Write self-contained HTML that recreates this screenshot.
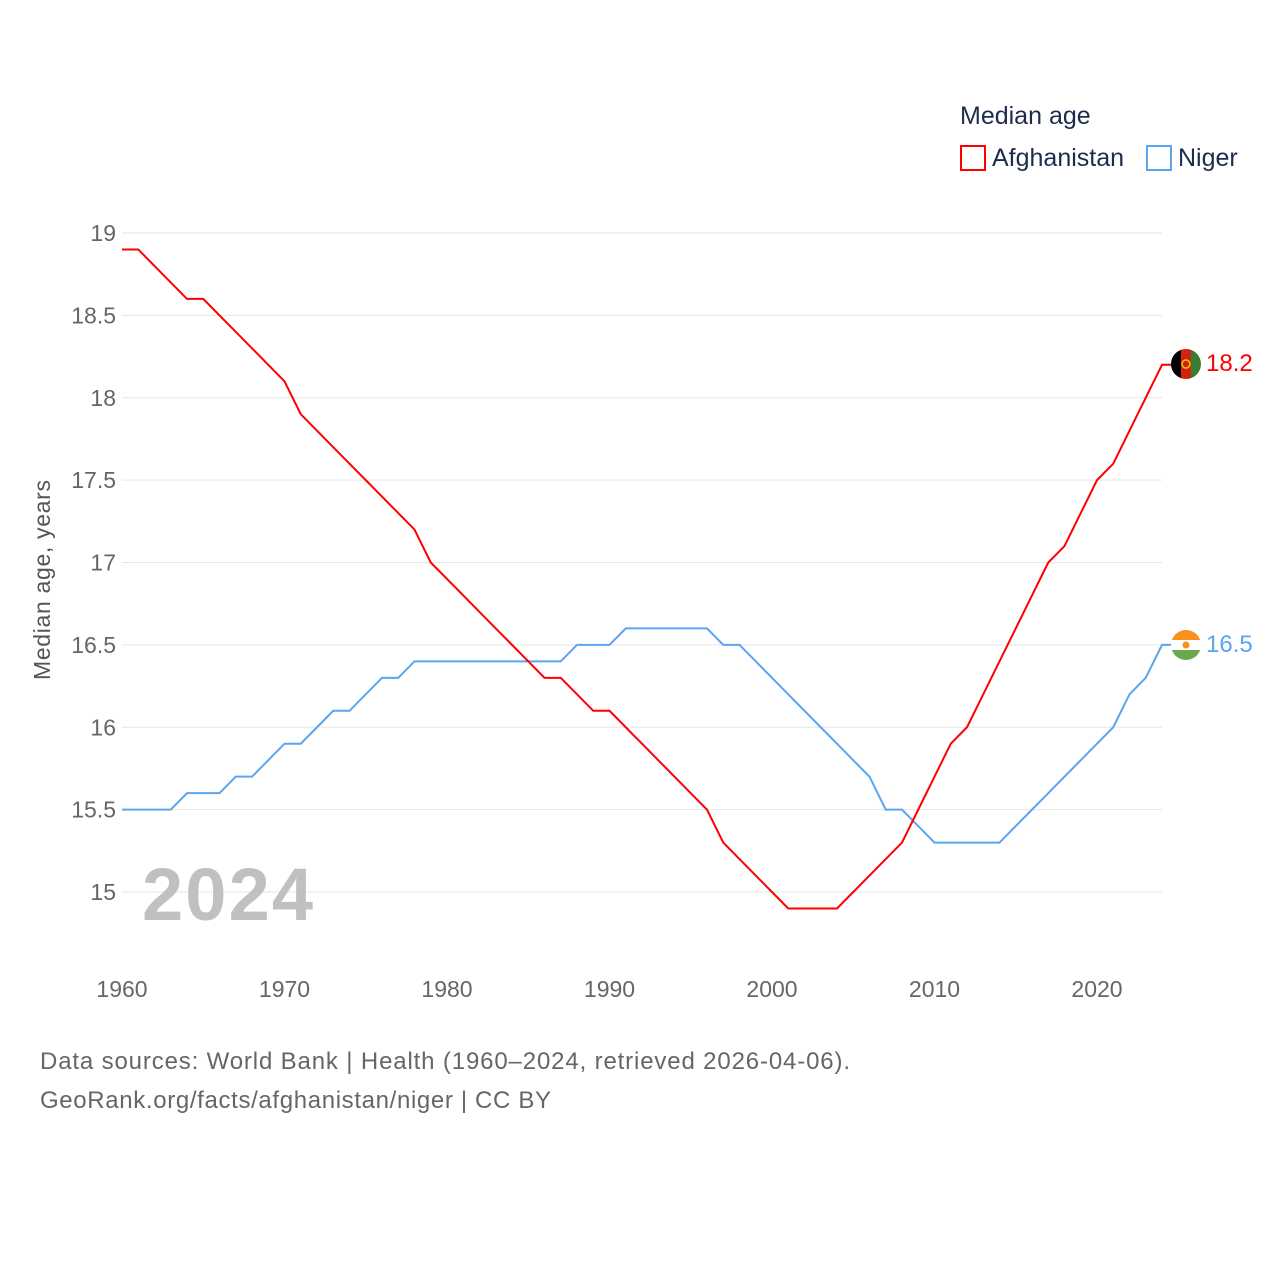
<!DOCTYPE html>
<html><head><meta charset="utf-8">
<style>
body{margin:0;background:#fff;font-family:"Liberation Sans",sans-serif;}
svg text{font-family:"Liberation Sans",sans-serif;}
</style></head>
<body>
<svg id="chart" width="1280" height="1280" xmlns="http://www.w3.org/2000/svg">
<text x="960" y="124" font-size="25" fill="#1d2c4c">Median age</text>
<rect x="961" y="146" width="24" height="24" fill="none" stroke="#ff0000" stroke-width="2"/>
<text x="992" y="166" font-size="25" fill="#1d2c4c">Afghanistan</text>
<rect x="1147" y="146" width="24" height="24" fill="none" stroke="#5aa5f0" stroke-width="2"/>
<text x="1178" y="166" font-size="25" fill="#1d2c4c">Niger</text>
<g id="grid"></g>
<text transform="translate(50,580) rotate(-90)" text-anchor="middle" font-size="23" fill="#555" textLength="200">Median age, years</text>
<text x="142" y="920" font-size="74" font-weight="bold" fill="#c0c0c0" textLength="171">2024</text>
<g id="series"></g>
<g>
<clipPath id="ac"><circle cx="1186" cy="364" r="15"/></clipPath>
<g clip-path="url(#ac)"><rect x="1171" y="349" width="10" height="30" fill="#000"/><rect x="1181" y="349" width="10" height="30" fill="#d32011"/><rect x="1191" y="349" width="10" height="30" fill="#3a7d33"/></g>
<circle cx="1186" cy="364" r="4" fill="none" stroke="#f5c400" stroke-width="1.5"/>
</g>
<g>
<clipPath id="nc"><circle cx="1186" cy="645" r="15"/></clipPath>
<g clip-path="url(#nc)"><rect x="1171" y="630" width="30" height="10" fill="#f7921e"/><rect x="1171" y="640" width="30" height="10" fill="#fff"/><rect x="1171" y="650" width="30" height="10" fill="#6aa84f"/><circle cx="1186" cy="645" r="3.5" fill="#f7921e"/></g>
</g>
<text x="1206" y="371" font-size="24" fill="#ff0000">18.2</text>
<text x="1206" y="652" font-size="24" fill="#5aa5f0">16.5</text>
<text x="40" y="1069" font-size="24" fill="#666" textLength="810">Data sources: World Bank | Health (1960–2024, retrieved 2026-04-06).</text>
<text x="40" y="1108" font-size="24" fill="#666" textLength="511">GeoRank.org/facts/afghanistan/niger | CC BY</text>
</svg>
<script>
const years = [];
for (let y = 1960; y <= 2024; y++) years.push(y);
const afghanistan = [18.9,18.9,18.8,18.7,18.6,18.6,18.5,18.4,18.3,18.2,18.1,17.9,17.8,17.7,17.6,17.5,17.4,17.3,17.2,17.0,16.9,16.8,16.7,16.6,16.5,16.4,16.3,16.3,16.2,16.1,16.1,16.0,15.9,15.8,15.7,15.6,15.5,15.3,15.2,15.1,15.0,14.9,14.9,14.9,14.9,15.0,15.1,15.2,15.3,15.5,15.7,15.9,16.0,16.2,16.4,16.6,16.8,17.0,17.1,17.3,17.5,17.6,17.8,18.0,18.2];
const niger = [15.5,15.5,15.5,15.5,15.6,15.6,15.6,15.7,15.7,15.8,15.9,15.9,16.0,16.1,16.1,16.2,16.3,16.3,16.4,16.4,16.4,16.4,16.4,16.4,16.4,16.4,16.4,16.4,16.5,16.5,16.5,16.6,16.6,16.6,16.6,16.6,16.6,16.5,16.5,16.4,16.3,16.2,16.1,16.0,15.9,15.8,15.7,15.5,15.5,15.4,15.3,15.3,15.3,15.3,15.3,15.4,15.5,15.6,15.7,15.8,15.9,16.0,16.2,16.3,16.5];
const yTicks = [15,15.5,16,16.5,17,17.5,18,18.5,19];
const xTicks = [1960,1970,1980,1990,2000,2010,2020];

const NS = "http://www.w3.org/2000/svg";
const xScale = v => 122 + (v - 1960) * 16.25;
const yScale = v => 892 - (v - 15) * 164.75;
const grid = document.getElementById('grid');
const series = document.getElementById('series');
yTicks.forEach(t => {
  const l = document.createElementNS(NS, 'line');
  l.setAttribute('x1', 122); l.setAttribute('x2', 1162);
  l.setAttribute('y1', yScale(t)); l.setAttribute('y2', yScale(t));
  l.setAttribute('stroke', '#e6e6e6'); l.setAttribute('stroke-width', 1);
  
  
  grid.appendChild(l);
  const tx = document.createElementNS(NS, 'text');
  tx.setAttribute('x', 116); tx.setAttribute('y', yScale(t) + 8);
  tx.setAttribute('text-anchor', 'end'); tx.setAttribute('font-size', 23); tx.setAttribute('fill', '#666');
  tx.textContent = String(t);
  
  
  grid.appendChild(tx);
});
xTicks.forEach(t => {
  const tx = document.createElementNS(NS, 'text');
  tx.setAttribute('x', xScale(t)); tx.setAttribute('y', 997);
  tx.setAttribute('text-anchor', 'middle'); tx.setAttribute('font-size', 23); tx.setAttribute('fill', '#666');
  tx.textContent = String(t);
  
  
  grid.appendChild(tx);
});
function drawLine(vals, color, name) {
  let d = vals.map((v, i) => (i ? 'L' : 'M') + xScale(years[i]) + ',' + yScale(v)).join(' ');
  d += ' L' + (xScale(years[years.length - 1]) + 10) + ',' + yScale(vals[vals.length - 1]);
  const p = document.createElementNS(NS, 'path');
  p.setAttribute('d', d); p.setAttribute('fill', 'none');
  p.setAttribute('stroke', color); p.setAttribute('stroke-width', 2);
  
  
  series.appendChild(p);
}
drawLine(niger, '#5aa5f0', 'line-niger');
drawLine(afghanistan, '#ff0000', 'line-afghanistan');
</script>
</body></html>
